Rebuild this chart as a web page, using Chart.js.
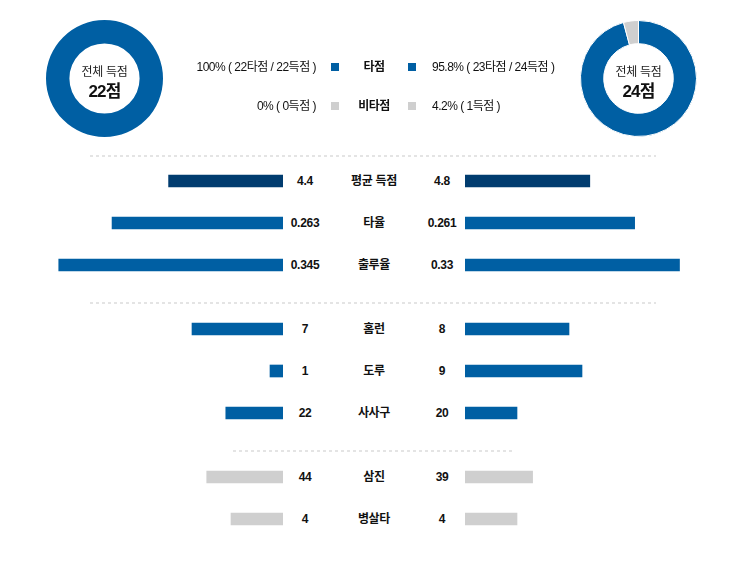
<!DOCTYPE html>
<html>
<head>
<meta charset="utf-8">
<script src="https://cdn.jsdelivr.net/npm/chart.js@4.4.0/dist/chart.umd.min.js"></script>
<style>
body { margin: 0; background: #fff; font-family: "Liberation Sans", Arial, "Noto Sans CJK KR", sans-serif; color: #111; }
#wrap { position: relative; width: 746px; height: 573px; overflow: hidden; }
.donut { position: absolute; top: 20px; width: 117px; height: 117px; }
.donut canvas { position: absolute; left: 0; top: 0; }
.donut .cap { position: absolute; left: 0; width: 117px; text-align: center; }
.donut .t1 { top: 42px; font-size: 12px; color: #222; letter-spacing: -0.3px; }
.donut .t2 { top: 57px; font-size: 17px; font-weight: bold; letter-spacing: -0.8px; }
.leg { position: absolute; height: 16px; line-height: 16px; font-size: 12px; letter-spacing: -0.5px; }
.leg .l { position: absolute; right: 430px; white-space: nowrap; }
.leg .sq { position: absolute; width: 8px; height: 8px; top: 4px; }
.leg .c { position: absolute; left: 334px; width: 80px; text-align: center; font-weight: bold; }
.leg .r { position: absolute; left: 432px; white-space: nowrap; }
.row { position: absolute; left: 0; width: 746px; height: 42px; }
.row canvas { position: absolute; top: 0; }
.row .v { position: absolute; top: 13px; width: 44px; text-align: center; font-size: 12px; font-weight: bold; line-height: 16px; letter-spacing: -0.3px; }
.row .n { position: absolute; top: 13px; left: 327px; width: 94px; text-align: center; font-size: 12px; font-weight: bold; line-height: 16px; letter-spacing: -0.3px; }
.sep { position: absolute; height: 2px; background-image: repeating-linear-gradient(to right, #e4e4e4 0 3px, transparent 3px 6px); }
</style>
</head>
<body>
<div id="wrap"></div>
<script>
var categories = ['평균 득점', '타율', '출루율', '홈런', '도루', '사사구', '삼진', '병살타'];
var homeValues = [4.4, 0.263, 0.345, 7, 1, 22, 44, 4];
var awayValues = [4.8, 0.261, 0.33, 8, 9, 20, 39, 4];
var rowMax = [10, 0.4, 0.4, 20, 20, 100, 150, 20];
var rowGroup = [0, 0, 0, 1, 1, 1, 2, 2];
var groupColors = ['#005fa3', '#005fa3', '#cfcfcf'];
var firstRowColor = '#013c6f';

var pieLabels = ['타점', '비타점'];
var homePie = [22, 0];
var awayPie = [23, 1];
var homeTotal = 22;
var awayTotal = 24;
var homeLegend = ['100% ( 22타점 / 22득점 )', '0% ( 0득점 )'];
var awayLegend = ['95.8% ( 23타점 / 24득점 )', '4.2% ( 1득점 )'];
var pieColors = ['#005fa3', '#cfcfcf'];

var wrap = document.getElementById('wrap');

function makeDonut(left, values, total, border) {
    var box = document.createElement('div');
    box.className = 'donut';
    box.style.left = left + 'px';
    var cv = document.createElement('canvas');
    cv.width = 117; cv.height = 117;
    box.appendChild(cv);
    box.insertAdjacentHTML('beforeend', '<div class="cap t1">전체 득점</div><div class="cap t2">' + total + '점</div>');
    wrap.appendChild(box);
    new Chart(cv, {
        type: 'doughnut',
        data: {
            labels: pieLabels,
            datasets: [{
                data: values,
                backgroundColor: pieColors,
                borderColor: '#fff',
                borderWidth: border
            }]
        },
        options: {
            responsive: false,
            animation: false,
            events: [],
            cutout: '60%',
            plugins: { legend: { display: false }, tooltip: { enabled: false } }
        }
    });
}

makeDonut(46, homePie, homeTotal, 0);
makeDonut(580, awayPie, awayTotal, 1);

// legend in the middle
[59, 98].forEach(function (top, k) {
    var d = document.createElement('div');
    d.className = 'leg';
    d.style.top = top + 'px';
    d.style.left = '0px';
    d.style.width = '746px';
    d.innerHTML = '<span class="l">' + homeLegend[k] + '</span>' +
        '<span class="sq" style="left:331px;background:' + pieColors[k] + '"></span>' +
        '<span class="c">' + pieLabels[k] + '</span>' +
        '<span class="sq" style="left:408px;background:' + pieColors[k] + '"></span>' +
        '<span class="r">' + awayLegend[k] + '</span>';
    wrap.appendChild(d);
});

// dotted separators
[[155, 90, 566], [302, 90, 566], [450, 233, 281]].forEach(function (s) {
    var d = document.createElement('div');
    d.className = 'sep';
    d.style.top = s[0] + 'px';
    d.style.left = s[1] + 'px';
    d.style.width = s[2] + 'px';
    wrap.appendChild(d);
});

function barChart(cv, value, max, color, reverse) {
    new Chart(cv, {
        type: 'bar',
        data: {
            labels: [''],
            datasets: [{ data: [value], backgroundColor: color, barThickness: 12 }]
        },
        options: {
            indexAxis: 'y',
            responsive: false,
            animation: false,
            events: [],
            plugins: { legend: { display: false }, tooltip: { enabled: false } },
            scales: {
                x: { display: false, min: 0, max: max, reverse: reverse },
                y: { display: false }
            }
        }
    });
}

categories.forEach(function (name, i) {
    var row = document.createElement('div');
    row.className = 'row';
    row.style.top = (160 + i * 42 + rowGroup[i] * 22) + 'px';
    var color = i === 0 ? firstRowColor : groupColors[rowGroup[i]];

    var lc = document.createElement('canvas');
    lc.width = 260; lc.height = 42;
    lc.style.left = '23px';
    var rc = document.createElement('canvas');
    rc.width = 260; rc.height = 42;
    rc.style.left = '465px';
    row.appendChild(lc);
    row.appendChild(rc);
    row.insertAdjacentHTML('beforeend',
        '<div class="v" style="left:283px">' + homeValues[i] + '</div>' +
        '<div class="n">' + name + '</div>' +
        '<div class="v" style="left:420px">' + awayValues[i] + '</div>');
    wrap.appendChild(row);

    barChart(lc, homeValues[i], rowMax[i], color, true);
    barChart(rc, awayValues[i], rowMax[i], color, false);
});
</script>
</body>
</html>
